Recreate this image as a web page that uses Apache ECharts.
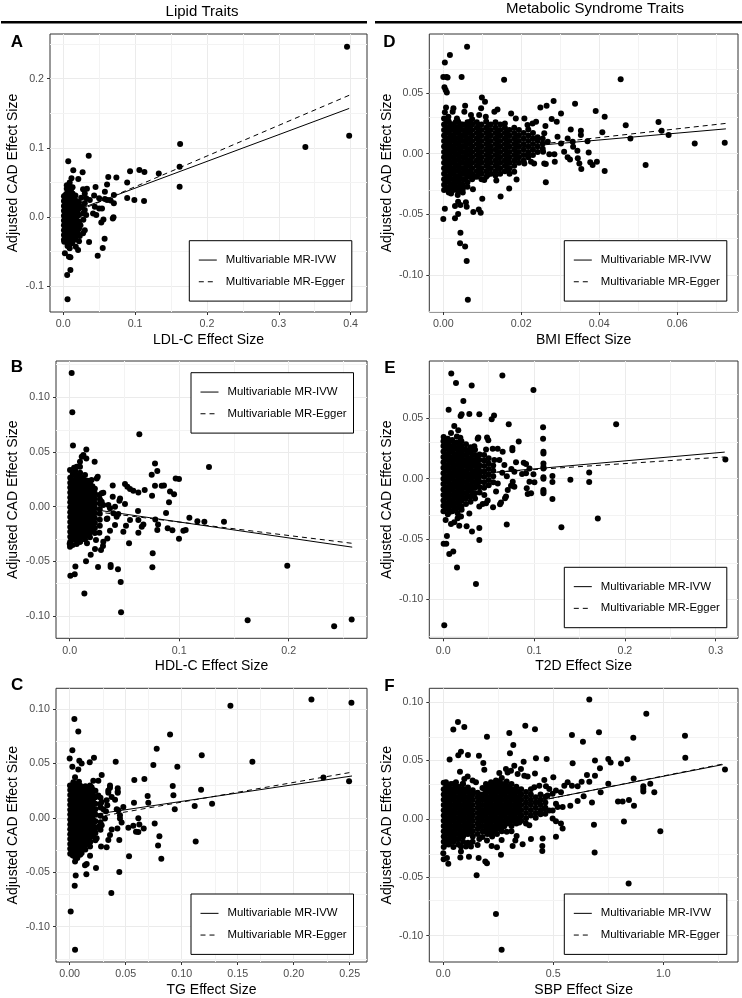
<!DOCTYPE html>
<html><head><meta charset="utf-8">
<script src="https://cdn.jsdelivr.net/npm/echarts@6/dist/echarts.min.js"></script>
<style>html,body{margin:0;padding:0;background:#fff}#c{width:742px;height:998px}</style>
</head><body><div id="c"></div>
<script>
const legendNames = ['Multivariable MR-IVW','Multivariable MR-Egger'];
const yTitle = 'Adjusted CAD Effect Size';

// scattered points
const pointsA = [[.395,.246],[.398,.1176],[.337,.1012],[.1627,.1055],[.162,.0728],[.162,.0439],[.133,.063],[.113,.065],[.106,.068],[.093,.066],[.089,.05],[.074,.057],[.0627,.058],[.061,.047],[.0355,.0887],[.007,.0805],[.014,.0675],[.027,.0646],[.021,.055],[.0115,.056],[.005,.046],[.033,.041],[.0276,.04],[.045,.0434],[.043,.031],[.0705,.032],[.058,.0366],[.089,.0275],[.099,.0246],[.1125,.023],[.0705,.02],[.061,.0246],[.05,.027],[.069,-.002],[.07,-.0005],[.056,-.0034],[.053,-.008],[.0576,-.0313],[.055,-.0448],[.048,-.056],[.036,-.036],[.032,.003],[.0415,.005],[.046,.003],[.05,.0125],[.054,.0125],[.044,.015],[.037,.0246],[.032,.027],[.03,.02],[.0276,.005],[.03,-.019],[.0276,-.0236],[.023,-.0275],[.0207,-.0477],[.0023,-.0525],[.008,-.0573],[.01,-.058],[.01,-.0766],[.0055,-.0839],[.006,-.119],[.0014,-.0357],[.009,-.045],[.0175,-.043],[.058,.026],[.066,.024],[.026,.015],[.03,.01],[.024,-.012],[.028,-.004],[.022,-.035],[.012,-.038],[.006,-.042],[.025,.028],[.03,.034]];
const coreA = [
 [.001,[-.033,-.026,-.019,-.012,-.005,.002,.009,.016,.023,.03]],
 [.003,[-.03,-.023,-.016,-.009,-.002,.005,.012,.019,.026,.032]],
 [.005,[-.036,-.029,-.022,-.015,-.008,-.001,.006,.013,.02,.027,.034,.041]],
 [.007,[-.032,-.025,-.018,-.011,-.004,.003,.01,.017,.024,.031,.038]],
 [.009,[-.034,-.027,-.02,-.013,-.006,.001,.008,.015,.022,.029,.036,.045,.05]],
 [.011,[-.03,-.023,-.016,-.009,-.002,.005,.012,.019,.026,.033,.04]],
 [.013,[-.036,-.029,-.022,-.015,-.008,-.001,.006,.013,.02,.027,.034,.043]],
 [.015,[-.026,-.019,-.012,-.005,.002,.009,.016,.023,.03]],
 [.017,[-.032,-.025,-.018,-.011,-.004,.003,.01,.017,.024,.031]],
 [.0195,[-.022,-.014,-.006,.001,.008,.015,.022]],
 [.022,[-.026,-.017,-.007,.003,.012,.021]]
];
const ivwA = [[0,.003],[.398,.157]];
const eggerA = [[0,-.0006],[.398,.176]];

const pointsB = [[.0018,.1223],[.0024,.0863],[.003,.0561],[.0636,.0662],[.1272,.0363],[.0152,.0524],[.0152,.0442],[.0228,.0412],[.0779,.0396],[.08,.0326],[.0749,.0293],[.0968,.0259],[.0998,.0253],[.0256,.0274],[.0247,.0259],[.02,.0244],[.0505,.0207],[.0527,.0183],[.0551,.0162],[.0581,.0146],[.0627,.0131],[.0685,.0152],[.0779,.0192],[.084,.0192],[.0861,.0195],[.0916,.014],[.0953,.0113],[.0907,.004],[.0752,.0101],[.0393,.0195],[.0393,.0091],[.046,.0076],[.0454,.0055],[.0505,.0024],[.0624,-.004],[.088,-.0058],[.1093,-.0101],[.1166,-.0134],[.123,-.0137],[.1409,-.0137],[.0782,-.0116],[.0807,-.0162],[.08,-.0213],[.0895,-.0198],[.0938,-.0216],[.1038,-.022],[.1059,-.0213],[.0998,-.0293],[.0673,-.0162],[.0658,-.0183],[.0627,-.0122],[.0627,-.0238],[.0551,-.0122],[.0514,-.0174],[.049,-.0229],[.0542,-.0335],[.0758,-.0427],[.0755,-.0555],[.0441,-.0573],[.0374,-.0534],[.0374,-.0552],[.0259,-.0552],[.0466,-.0689],[.0469,-.0966],[.0134,-.0793],[.0052,-.0546],[.0046,-.0619],[.0006,-.0631],[.0149,-.05],[.0192,-.0439],[.0231,-.0387],[.0286,-.0396],[.0304,-.036],[.024,-.0305],[.0344,-.029],[.0307,-.032],[.0368,-.022],[.0414,-.0168],[.0338,-.0113],[.0344,-.0107],[.0271,-.0238],[.0158,-.0335],[.0164,-.0259],[.0429,-.0091],[.0444,-.0067],[.0399,-.0061],[.0414,0],[.0353,.0015],[.0307,.0015],[.0368,-.0015],[.0292,.0122],[.0307,.0128],[.0271,.0107],[.0277,.0067],[.0292,.0046],[.0094,.0412],[.0125,.0473],[.011,.0457],[.0003,.0335],[.004,.0357],[.0064,.0366],[.0094,.0366],[.0003,-.0366],[.0027,-.035],[.0064,-.0341],[.0094,-.032],[.0,-.034],[.1625,-.1038],[.1987,-.0541],[.2415,-.1094],[.2575,-.1032]];
const coreB = [
 [.0005,[-.032,-.0275,-.023,-.0185,-.014,-.0095,-.005,-.0005,.004,.0085,.013,.0175,.022,.0265]],
 [.0028,[-.0295,-.0252,-.0207,-.0162,-.0117,-.0072,-.0027,.0018,.0063,.0108,.0153,.0198,.0243,.03]],
 [.005,[-.030,-.0255,-.021,-.0165,-.012,-.0075,-.003,.0015,.006,.0105,.015,.0195,.024,.0285,.033]],
 [.0073,[-.0298,-.0253,-.0208,-.0163,-.0118,-.0073,-.0028,.0017,.0062,.0107,.0152,.0197,.0242,.0287]],
 [.0095,[-.032,-.0275,-.023,-.0185,-.014,-.0095,-.005,-.0005,.004,.0085,.013,.0175,.022,.0265,.031]],
 [.0118,[-.0275,-.0233,-.0188,-.0143,-.0098,-.0053,-.0008,.0037,.0082,.0127,.0172,.0217,.0262]],
 [.014,[-.030,-.0255,-.021,-.0165,-.012,-.0075,-.003,.0015,.006,.0105,.015,.0195,.024,.029]],
 [.0163,[-.0255,-.0213,-.0168,-.0123,-.0078,-.0033,.0012,.0057,.0102,.0147,.0192,.0237]],
 [.0185,[-.028,-.0235,-.019,-.0145,-.01,-.0055,-.001,.0035,.008,.0125,.017,.0215]],
 [.0208,[-.0215,-.0173,-.0128,-.0083,-.0038,.0007,.0052,.0097,.0142,.0187]],
 [.023,[-.024,-.0195,-.015,-.0105,-.006,-.0015,.003,.0075,.012,.0165]],
 [.0275,[-.0175,-.012,-.0065,-.002,.003]]
];
const ivwB = [[0,.0006],[.258,-.037]];
const eggerB = [[0,-.0017],[.258,-.0335]];

const pointsC = [[.0042,.0909],[.0077,.0794],[.1435,.103],[.2158,.1088],[.2515,.1058],[.0896,.0767],[.0777,.0636],[.1179,.0576],[.0024,.0621],[0,.0545],[.0217,.0552],[.0086,.0524],[.0107,.05],[.0179,.0512],[.0411,.0515],[.1631,.0515],[.0747,.0485],[.0961,.047],[.0024,.047],[.0077,.0445],[.0286,.0394],[.0667,.0358],[.0577,.0348],[.2265,.037],[.2494,.0336],[.092,.0294],[.1173,.0258],[.0926,.0209],[.0696,.02],[.0702,.0139],[.0574,.0139],[.1271,.013],[.1116,.0109],[.0938,.0079],[.036,.0297],[.036,.0276],[.0345,.0252],[.0345,.023],[.0429,.0273],[.0429,.0242],[.0429,.023],[.0375,.0191],[.0405,.0167],[.033,.0161],[.0479,.01],[.0435,.007],[.042,.0079],[.0449,.0024],[.0449,-.0006],[.0464,-.0042],[.0426,-.0097],[.0443,-.0203],[.0524,-.0091],[.0568,-.0073],[.0592,-.0127],[.0613,-.013],[.0622,-.0061],[.0613,-.0003],[.0661,-.0097],[.0759,-.0052],[.0801,-.017],[.0789,-.0255],[.0818,-.0376],[.053,-.0352],[.1125,-.0218],[.0443,-.0497],[.0372,-.0691],[.0235,-.0461],[.0149,-.0518],[.0152,-.0424],[.0137,-.0436],[.0182,-.0348],[.0241,-.0188],[.028,-.0264],[.033,-.027],[.0345,-.0203],[.036,-.0158],[.0375,-.0106],[.0054,-.053],[.0045,-.0624],[.0009,-.0861],[.0048,-.1212],[.0048,-.04],[.0068,-.037],[.0107,-.0324],[.0092,-.0339],[.0137,-.0248],[.0182,-.0264],[.0226,-.0127],[.0256,-.0082],[.0286,-.0067],[.0315,-.0006],[.0324,.0061],[.0301,.0079],[.0336,.0115],[.0286,.0145],[.0256,.0206],[.0211,.0342],[.0256,.0342],[.0196,.0282],[.0182,.0297],[.0003,.0297],[.0033,.0327],[.0083,.0333],[.0048,.0373]];
const coreC = [
 [.0005,[-.033,-.0285,-.024,-.0195,-.015,-.0105,-.006,-.0015,.003,.0075,.012,.0165,.021,.0255]],
 [.0028,[-.0345,-.0308,-.0263,-.0218,-.0173,-.0128,-.0083,-.0038,.0007,.0052,.0097,.0142,.0187,.0232,.028]],
 [.005,[-.036,-.0315,-.027,-.0225,-.018,-.0135,-.009,-.0045,0,.0045,.009,.0135,.018,.0225,.027,.031]],
 [.0073,[-.0338,-.0292,-.0247,-.0202,-.0157,-.0112,-.0067,-.0022,.0023,.0068,.0113,.0158,.0203,.0248,.0293]],
 [.0095,[-.0335,-.029,-.0245,-.02,-.0155,-.011,-.0065,-.002,.0025,.007,.0115,.016,.0205,.025,.0295]],
 [.0118,[-.0287,-.0267,-.0222,-.0177,-.0132,-.0087,-.0042,.0003,.0048,.0093,.0138,.0183,.0228,.0273]],
 [.014,[-.029,-.0245,-.02,-.0155,-.011,-.0065,-.002,.0025,.007,.0115,.016,.0205,.025,.029]],
 [.0163,[-.0215,-.0198,-.0153,-.0108,-.0063,-.0018,.0027,.0072,.0117,.0162,.0207,.0252,.028]],
 [.0185,[-.022,-.0175,-.013,-.0085,-.004,.0005,.005,.0095,.014,.0185,.023,.0275]],
 [.0208,[-.017,-.0108,-.0063,-.0013,.0032,.0077,.0122,.0167,.0212,.0257]],
 [.023,[-.0205,-.014,-.009,-.003,.003,.008,.013,.019,.025]],
 [.0275,[-.011,-.004,.002,.0095,.013,.0185]]
];
const ivwC = [[0,-.0002],[.252,.0385]];
const eggerC = [[0,-.0036],[.252,.042]];

const pointsD = [[.0061,.0882],[.0017,.0813],[.0004,.0753],[0,.0632],[.0008,.0632],[.0011,.0629],[.0047,.0632],[.0156,.061],[.0455,.0613],[.0003,.0547],[.0006,.0525],[.0009,.0505],[.0099,.0464],[.0107,.0429],[.0283,.0434],[.0338,.0412],[.0265,.0396],[.0249,.0382],[.0302,.0332],[.0391,.0352],[.0414,.0305],[.0468,.0234],[.0552,.0261],[.056,.019],[.0578,.0154],[.048,.0126],[.0645,.0085],[.0722,.0091],[.0519,-.0093],[.0414,-.0143],[.0408,.0176],[.037,.0102],[.0373,.0011],[.0377,-.0071],[.0383,-.0093],[.0394,-.0066],[.0353,.019],[.0353,.0154],[.0327,.02],[.0345,-.0038],[.0349,-.008],[.0354,-.0126],[.031,.0016],[.0319,-.003],[.0325,-.0047],[.0344,.0025],[.0263,-.0236],[.0286,-.0066],[.0259,-.008],[.0263,-.0085],[.0272,-.0005],[.0285,-.0005],[.0256,.0016],[.0291,.0264],[.0278,.0286],[.0262,.0228],[.0293,.014],[.0302,.0085],[.0319,.0126],[.0332,.0099],[.0333,.0058],[.0259,.0168],[.0242,.0135],[.0268,.0099],[.0238,.0264],[.0229,.025],[.0216,.0236],[.0208,.0291],[.0186,.0291],[.0174,.0332],[.0139,.0365],[.0131,.0346],[.0097,.0374],[.0109,.0305],[.0092,.0319],[.0071,.0319],[.0056,.0396],[.0054,.0346],[.0026,.0374],[.0007,.0382],[.0004,.0341],[.0024,.0346],[.0035,.0291],[.0013,.0305],[0,-.0538],[.0004,-.0453],[.003,-.0533],[.0038,-.0497],[.0044,-.0651],[.0043,-.0739],[.0056,-.0764],[.006,-.0885],[.0063,-.1203],[.0077,-.0481],[.0091,-.0459],[.0096,-.0486],[.01,-.0371],[.006,-.0437],[.0058,-.0401],[.003,-.0431],[.0038,-.0396],[.0044,-.0423],[.0076,-.0294],[.0062,-.0272],[.005,-.0319],[.0037,-.0341],[.002,-.0327],[.0147,-.0352],[.0169,-.0286],[.0188,-.0212],[.0136,-.022],[.0105,-.0217],[.0079,-.019],[.0114,-.0176],[.0182,-.0148],[.0165,-.0126],[.0208,-.008],[.0225,-.0066],[.0233,-.008],[.0216,-.0011]];
const coreD = [
 [.0002,[-.03,-.0255,-.021,-.0165,-.012,-.0075,-.003,.0015,.006,.0105,.015,.0195,.024,.029]],
 [.0008,[-.028,-.0233,-.0188,-.0143,-.0098,-.0053,-.0008,.0037,.0082,.0127,.0172,.0217,.0262]],
 [.0014,[-.032,-.0275,-.023,-.0185,-.014,-.0095,-.005,-.0005,.004,.0085,.013,.0175,.022,.0265]],
 [.002,[-.0298,-.0252,-.0207,-.0162,-.0117,-.0072,-.0027,.0018,.0063,.0108,.0153,.0198,.0243]],
 [.0026,[-.03,-.0255,-.021,-.0165,-.012,-.0075,-.003,.0015,.006,.0105,.015,.0195,.024]],
 [.0032,[-.0275,-.0233,-.0188,-.0143,-.0098,-.0053,-.0008,.0037,.0082,.0127,.0172,.0217,.0262]],
 [.0038,[-.031,-.0275,-.023,-.0185,-.014,-.0095,-.005,-.0005,.004,.0085,.013,.0175,.022,.0265]],
 [.0044,[-.0252,-.0207,-.0162,-.0117,-.0072,-.0027,.0018,.0063,.0108,.0153,.0198,.0243]],
 [.005,[-.029,-.0255,-.021,-.0165,-.012,-.0075,-.003,.0015,.006,.0105,.015,.0195,.024]],
 [.0056,[-.0213,-.0168,-.0123,-.0078,-.0033,.0012,.0057,.0102,.0147,.0192,.0237]],
 [.0062,[-.0235,-.019,-.0145,-.01,-.0055,-.001,.0035,.008,.0125,.017,.0215,.026]],
 [.0068,[-.0188,-.0143,-.0098,-.0053,-.0008,.0037,.0082,.0127,.0172,.0217,.0262]],
 [.0074,[-.021,-.0165,-.012,-.0075,-.003,.0015,.006,.0105,.015,.0195,.024,.0285]],
 [.0086,[-.019,-.0145,-.01,-.0055,-.001,.0035,.008,.0125,.017,.0215,.026]],
 [.0092,[-.0168,-.0123,-.0078,-.0033,.0012,.0057,.0102,.0147,.0192,.0237]],
 [.0098,[-.021,-.0165,-.012,-.0075,-.003,.0015,.006,.0105,.015,.0195,.024]],
 [.011,[-.019,-.0145,-.01,-.0055,-.001,.0035,.008,.0125,.017,.0215,.0265]],
 [.0116,[-.0123,-.0078,-.0033,.0012,.0057,.0102,.0147,.0192,.0237]],
 [.0122,[-.0165,-.012,-.0075,-.003,.0015,.006,.0105,.015,.0195,.024]],
 [.0134,[-.018,-.0145,-.01,-.0055,-.001,.0035,.008,.0125,.017,.0215,.026]],
 [.014,[-.0123,-.0078,-.0033,.0012,.0057,.0102,.0147,.0192]],
 [.0146,[-.0165,-.012,-.0075,-.003,.0015,.006,.0105,.015,.0195,.024]],
 [.0158,[-.0145,-.01,-.0055,-.001,.0035,.008,.0125,.017,.0215,.025]],
 [.0164,[-.0078,-.0033,.0012,.0057,.0102,.0147,.0192]],
 [.017,[-.0165,-.012,-.0075,-.003,.0015,.006,.0105,.015,.0195]],
 [.0182,[-.01,-.0055,-.001,.0035,.008,.0125,.017,.0215]],
 [.0188,[-.0033,.0012,.0057,.0102,.0147]],
 [.0194,[-.0075,-.003,.0015,.006,.0105,.015,.0195]],
 [.0206,[-.0055,-.001,.0035,.008,.0125,.017]],
 [.0218,[-.003,.0015,.006,.0105,.015,.02]],
 [.023,[-.001,.0035,.008,.0125,.017]],
 [.0242,[.0015,.006,.0105]],
 [.0255,[.004,.0085,.0125]]
];
const ivwD = [[0,0],[.0725,.0205]];
const eggerD = [[0,-.001],[.0725,.025]];

const pointsE = [[.0088,.0871],[.014,.0791],[.0313,.0772],[.0651,.0854],[.0993,.0734],[.0221,.0643],[.0059,.0571],[.0202,.0533],[.0191,.0519],[.0287,.0536],[.0397,.0533],[.0559,.0522],[.0533,.0492],[.0721,.0451],[.1904,.0451],[.1099,.0426],[.1099,.033],[.1103,.0223],[.1103,.0209],[.0831,.0308],[.0761,.0255],[.0761,.0236],[.0654,.0223],[.0599,.0247],[.0544,.0247],[.0482,.0341],[.0496,.0319],[.0379,.033],[.0386,.0341],[.0121,.0437],[.0165,.0401],[.0085,.0379],[.0188,.0338],[.0004,.0346],[.0342,.0269],[.0471,.0242],[.0305,.025],[.3107,.0159],[.1607,.0052],[.1607,-.0027],[.14,-.0008],[.1202,.0022],[.1202,-.0027],[.1202,-.0168],[.1103,.0126],[.1103,.0099],[.1103,.0085],[.1103,.0011],[.1103,0],[.1103,-.0093],[.1103,-.0107],[.1103,-.0121],[.1702,-.033],[.1301,-.0401],[.0699,-.0379],[.0993,.0036],[.0949,-.0025],[.1004,-.003],[.0967,-.0121],[.093,-.0126],[.0919,-.008],[.0912,.0044],[.0886,.0132],[.0912,.0121],[.0801,.0135],[.0868,.0038],[.0949,.0085],[.0783,-.0066],[.0746,-.0058],[.0765,-.0025],[.071,-.0093],[.0691,-.0148],[.068,-.0162],[.0636,-.0198],[.0625,-.0212],[.0548,-.0236],[.0489,-.0181],[.0471,-.0203],[.0434,-.0209],[.0397,-.0231],[.0452,-.0135],[.0581,-.0107],[.0287,-.0288],[.0158,-.0286],[.0202,-.0258],[.0026,-.0341],[.0085,-.0376],[.0121,-.036],[.0158,-.0327],[.0195,-.0313],[.0176,-.039],[.0257,-.0393],[.0316,-.0437],[.0397,-.0409],[.0397,-.0508],[.004,-.0475],[.0004,-.0538],[.0033,-.0538],[.0066,-.0624],[.011,-.0602],[.0151,-.0736],[.036,-.0871],[.0011,-.1214],[.0673,.0113],[.0618,.0154],[.0562,.0154],[.0783,.0058],[.065,.005],[.07,.002],[.075,.008],[.06,-.004]];
const coreE = [
 [.0002,[-.027,-.0225,-.018,-.0135,-.009,-.0045,0,.0045,.009,.0135,.018,.0225,.027,.031]],
 [.0025,[-.0248,-.0203,-.0158,-.0113,-.0068,-.0023,.0022,.0067,.0112,.0157,.0202,.0247,.0292]],
 [.005,[-.0295,-.025,-.0205,-.016,-.0115,-.007,-.0025,.002,.0065,.011,.0155,.02,.0245,.029,.033]],
 [.0075,[-.0273,-.0228,-.0183,-.0138,-.0093,-.0048,-.0003,.0042,.0087,.0132,.0177,.0222,.0267,.0312]],
 [.01,[-.027,-.0225,-.018,-.0135,-.009,-.0045,0,.0045,.009,.0135,.018,.0225,.027,.032]],
 [.0125,[-.0248,-.0203,-.0158,-.0113,-.0068,-.0023,.0022,.0067,.0112,.0157,.0202,.0247,.0292]],
 [.015,[-.0245,-.02,-.0155,-.011,-.0065,-.002,.0025,.007,.0115,.016,.0205,.025,.03,.035]],
 [.0175,[-.0222,-.0178,-.0133,-.0088,-.0043,.0002,.0047,.0092,.0137,.0182,.0227,.0272]],
 [.02,[-.023,-.0185,-.014,-.0095,-.005,-.0005,.004,.0085,.013,.0175,.022,.0265,.031]],
 [.0225,[-.0163,-.0118,-.0073,-.0028,.0017,.0062,.0107,.0152,.0197,.0242]],
 [.025,[-.021,-.0165,-.012,-.0075,-.003,.0015,.006,.0105,.015,.0195,.024,.0285]],
 [.0275,[-.0143,-.0098,-.0053,-.0008,.0037,.0082,.0127,.0172,.0217]],
 [.03,[-.019,-.0145,-.01,-.0055,-.001,.0035,.008,.0125,.017,.0215,.026]],
 [.0325,[-.0118,-.0073,-.0028,.0017,.0062,.0107,.0152,.0197]],
 [.035,[-.0165,-.012,-.0075,-.003,.0015,.006,.0105,.015,.0195,.024]],
 [.0375,[-.0053,-.0008,.0037,.0082,.0127,.0172]],
 [.04,[-.0115,-.007,-.0025,.002,.0065,.011,.0155,.02]],
 [.045,[-.0075,-.003,.0015,.006,.0105,.015,.0195]],
 [.05,[-.0055,-.001,.0035,.008,.0125,.017]],
 [.055,[-.003,.002,.0065,.011]]
];
const ivwE = [[0,.0015],[.31,.022]];
const eggerE = [[0,.0025],[.31,.018]];

const pointsF = [[.6636,.1023],[.9227,.0901],[.0667,.0831],[.0955,.0788],[.0455,.0766],[.3727,.0799],[.4167,.0768],[.3,.0737],[.1985,.0703],[.7076,.0743],[.5848,.0718],[.6348,.0661],[.8636,.0695],[1.0985,.0712],[1.1,.0523],[.3182,.0633],[.0803,.0576],[.0682,.0545],[.1121,.0548],[.1621,.0542],[.0288,.0508],[.303,.0562],[.1818,.048],[.1864,.0421],[.0758,.0404],[.4212,.052],[.4697,.0514],[.5879,.0477],[.6894,.05],[.75,.0514],[.7606,.0483],[.8076,.0475],[.8364,.0511],[.7121,.0435],[.6894,.037],[.653,.0376],[.6636,.0319],[.6288,.0319],[.8652,.0347],[.75,.0302],[.7152,.0229],[.9091,.028],[.9091,.0257],[.9091,.0234],[.9409,.0302],[.9591,.0229],[1.2803,.0424],[.794,.015],[.8152,.015],[.8439,.0161],[.8667,.0113],[.6758,.0141],[.6379,.0195],[.6106,.0153],[.5773,.0113],[.8212,-.0023],[.6848,-.0051],[.9864,-.0105],[.6879,-.0288],[.8424,-.0554],[.1515,-.0483],[.2394,-.0814],[.2652,-.1121],[.0227,-.0384],[.1985,-.0381],[.1909,-.0364],[.1606,-.0336],[0,-.0294],[.0015,-.0345],[.0167,-.0336],[.0773,-.033],[.0803,-.028],[.1167,-.0325],[.2621,-.0308],[.2439,-.0243],[.2197,-.0232],[.1985,-.0186],[.2652,-.0181],[.3152,-.0232],[.3273,-.0186],[.3333,-.0147],[.3606,-.0218],[.3985,-.0172],[.45,-.0274],[.45,-.0232],[.4515,-.0167],[.5121,-.0153],[.5348,-.004],[.5424,-.0082],[.497,.0003],[.5121,-.002],[.3758,-.004],[.3909,-.0054],[.3455,-.0031],[.1258,-.0237],[.1333,-.0195],[.1561,-.0223],[.1636,-.0172],[.0803,-.0237],[.103,-.0237],[.3227,.0455],[.2848,.0427],[.2924,.0398],[.3076,.0412],[.2545,.0393],[.2394,.0328],[.2167,.0314],[.1939,.0299],[.3652,.0489],[.353,.0427],[.3682,.037],[.3833,.0364],[.3379,.0384],[.4167,.039],[.4591,.0333],[.5,.0356],[.4136,.0271],[.4364,.0285],[.4667,.028],[.4818,.0257],[.5121,.0243],[.5348,.0229],[.5652,.0314],[.5848,.0285],[.6106,.028],[.55,.0285],[.4742,.0201],[.497,.0215],[.5121,.013],[.5424,.0102],[.5197,.0102],[.4818,.0073],[.497,.0073],[.4591,.0088],[.4364,.0144],[.0121,.0314],[.0576,.0314],[.0879,.0299],[.1106,.0364],[.1333,.0328],[.1485,.0314],[.0955,.0342],[.0348,.0299]];
const coreF = [
 [.002,[-.024,-.0195,-.015,-.0105,-.006,-.0015,.003,.0075,.012,.0165,.021,.0255,.031]],
 [.013,[-.0218,-.0173,-.0128,-.0083,-.0038,.0007,.0052,.0097,.0142,.0187,.0232,.0277]],
 [.024,[-.022,-.0175,-.013,-.0085,-.004,.0005,.005,.0095,.014,.0185,.023,.0275]],
 [.035,[-.0198,-.0153,-.0108,-.0063,-.0018,.0027,.0072,.0117,.0162,.0207,.0252]],
 [.046,[-.024,-.0195,-.015,-.0105,-.006,-.0015,.003,.0075,.012,.0165,.021,.0255,.03]],
 [.057,[-.0173,-.0128,-.0083,-.0038,.0007,.0052,.0097,.0142,.0187,.0232,.0277]],
 [.068,[-.022,-.0175,-.013,-.0085,-.004,.0005,.005,.0095,.014,.0185,.023,.0275]],
 [.079,[-.0153,-.0108,-.0063,-.0018,.0027,.0072,.0117,.0162,.0207,.0252]],
 [.09,[-.0195,-.015,-.0105,-.006,-.0015,.003,.0075,.012,.0165,.021,.0255,.03]],
 [.101,[-.0128,-.0083,-.0038,.0007,.0052,.0097,.0142,.0187,.0232]],
 [.112,[-.0205,-.013,-.0085,-.004,.0005,.005,.0095,.014,.0185,.023,.027]],
 [.123,[-.0108,-.0063,-.0018,.0027,.0072,.0117,.0162,.0207]],
 [.134,[-.015,-.0105,-.006,-.0015,.003,.0075,.012,.0165,.021,.0245]],
 [.156,[-.013,-.0085,-.004,.0005,.005,.0095,.014,.0185,.0225]],
 [.167,[-.0063,-.0018,.0027,.0072,.0117,.0162,.0207]],
 [.178,[-.0155,-.0105,-.006,-.0015,.003,.0075,.012,.0165,.021,.0265]],
 [.19,[-.0108,-.0063,-.0018,.0027,.0072,.0117,.0162,.0207,.0252]],
 [.2,[-.013,-.0085,-.004,.0005,.005,.0095,.014,.0185,.023,.0275]],
 [.211,[-.0128,-.0083,-.0038,.0007,.0052,.0097,.0142,.0187,.0232,.0277]],
 [.222,[-.015,-.0105,-.006,-.0015,.003,.0075,.012,.0165,.021,.0255,.03]],
 [.233,[-.0108,-.0063,-.0018,.0027,.0072,.0117,.0162,.0207,.0252,.0297]],
 [.244,[-.013,-.0085,-.004,.0005,.005,.0095,.014,.0185,.023,.0275,.032]],
 [.255,[-.0083,-.0038,.0007,.0052,.0097,.0142,.0187,.0232,.0277,.0322]],
 [.266,[-.0105,-.006,-.0015,.003,.0075,.012,.0165,.021,.0255,.03,.035]],
 [.277,[-.0063,-.0018,.0027,.0072,.0117,.0162,.0207,.0252,.0297]],
 [.288,[-.011,-.004,.0005,.005,.0095,.014,.0185,.023,.0275,.032]],
 [.299,[-.0038,.0007,.0052,.0097,.0142,.0187,.0232,.0277]],
 [.31,[-.0105,-.006,-.0015,.003,.0075,.012,.0165,.021,.0255,.03]],
 [.321,[-.0018,.0027,.0072,.0117,.0162,.0207,.0252]],
 [.332,[-.004,.0005,.005,.0095,.014,.0185,.023,.0275]],
 [.343,[.0007,.0052,.0097,.0142,.0187,.0232]],
 [.354,[-.0015,.003,.0075,.012,.0165,.021,.0255]],
 [.376,[.0005,.005,.0095,.014,.0185,.023]],
 [.398,[.003,.0075,.012,.0165,.021,.0255]],
 [.42,[.001,.005,.0095,.014,.0185]],
 [.442,[.004,.0075,.012,.0165,.021]],
 [.464,[.0045,.0095,.014,.019]]
];
const ivwF = [[0,-.0005],[1.27,.0465]];
const eggerF = [[0,-.001],[1.27,.047]];

const panels = [
 {letter:'A',xName:'LDL-C Effect Size',points:pointsA,core:coreA,ivw:ivwA,egger:eggerA,xMin:-.0184,xMax:.4228,yMin:-.1373,yMax:.2646,xMajor:[0,.1,.2,.3,.4],xMinor:[.05,.15,.25,.35],yMajor:[-.1,0,.1,.2],yMinor:[-.05,.05,.15,.25],xDec:1,yDec:1,box:[50,34,317,278],gap:30,leg:[189.3,240.7],lab:[10.7,34]},
 {letter:'B',xName:'HDL-C Effect Size',points:pointsB,core:coreB,ivw:ivwB,egger:eggerB,xMin:-.0125,xMax:.2715,yMin:-.1204,yMax:.1333,xMajor:[0,.1,.2],xMinor:[.05,.15,.25],yMajor:[-.1,-.05,0,.05,.1],yMinor:[-.075,-.025,.025,.075,.125],xDec:1,yDec:2,box:[56,361,311,277.3],gap:36,leg:[191,372.7],lab:[10.7,359]},
 {letter:'C',xName:'TG Effect Size',points:pointsC,core:coreC,ivw:ivwC,egger:eggerC,xMin:-.0122,xMax:.2654,yMin:-.1325,yMax:.1191,xMajor:[0,.05,.1,.15,.2,.25],xMinor:[.025,.075,.125,.175,.225],yMajor:[-.1,-.05,0,.05,.1],yMinor:[-.125,-.075,-.025,.025,.075],xDec:2,yDec:2,box:[56,688.3,311,276.7],gap:36,leg:[191,894],lab:[11,677]},
 {letter:'D',xName:'BMI Effect Size',points:pointsD,core:coreD,ivw:ivwD,egger:eggerD,xMin:-.00359,xMax:.0756,yMin:-.1305,yMax:.0987,xMajor:[0,.02,.04,.06],xMinor:[.01,.03,.05,.07],yMajor:[-.1,-.05,0,.05],yMinor:[-.125,-.075,-.025,.025,.075],xDec:2,yDec:2,box:[429.3,34,308.7,278],gap:35,leg:[564.3,240.7],lab:[383.3,34]},
 {letter:'E',xName:'T2D Effect Size',points:pointsE,core:coreE,ivw:ivwE,egger:eggerE,xMin:-.0154,xMax:.3246,yMin:-.1321,yMax:.0974,xMajor:[0,.1,.2,.3],xMinor:[.05,.15,.25],yMajor:[-.1,-.05,0,.05],yMinor:[-.125,-.075,-.025,.025,.075],xDec:1,yDec:2,box:[429.3,361,308.7,277.3],gap:35,leg:[564.3,567.3],lab:[384.3,360]},
 {letter:'F',xName:'SBP Effect Size',points:pointsF,core:coreF,ivw:ivwF,egger:eggerF,xMin:-.0636,xMax:1.3395,yMin:-.1226,yMax:.1119,xMajor:[0,.5,1],xMinor:[.25,.75,1.25],yMajor:[-.1,-.05,0,.05,.1],yMinor:[-.075,-.025,.025,.075],xDec:1,yDec:2,box:[429.3,688.3,308.7,276.7],gap:35,leg:[564.3,894],lab:[384.3,678]}
];

const FONT = 'Liberation Sans';
const grid=[],xAxis=[],yAxis=[],series=[],legend=[];
const title=[
 {text:'Lipid Traits',left:202,top:4,textAlign:'center',padding:0,textStyle:{fontFamily:FONT,fontSize:15,fontWeight:'normal',color:'#000'}},
 {text:'Metabolic Syndrome Traits',left:595,top:1,textAlign:'center',padding:0,textStyle:{fontFamily:FONT,fontSize:15,fontWeight:'normal',color:'#000'}}
];
panels.forEach((p,i)=>{
 const pts=p.points.slice();
 p.core.forEach(c=>c[1].forEach(y=>pts.push([c[0],y])));
 grid.push({left:p.box[0],top:p.box[1],width:p.box[2],height:p.box[3],show:true,backgroundColor:'transparent',borderColor:'#333',borderWidth:1,containLabel:false});
 const ax=(isX)=>({
  type:'value',gridIndex:i,
  min:isX?p.xMin:p.yMin,max:isX?p.xMax:p.yMax,
  name:isX?p.xName:yTitle,nameLocation:'middle',nameGap:isX?21:p.gap,
  nameTextStyle:{fontFamily:FONT,fontSize:14,color:'#000'},
  axisLine:{show:false,onZero:false},
  axisTick:{show:true,length:3,lineStyle:{color:'#333',width:1},customValues:isX?p.xMajor:p.yMajor},
  axisLabel:{show:true,customValues:isX?p.xMajor:p.yMajor,margin:isX?7:6,fontFamily:FONT,fontSize:10.7,color:'#4d4d4d',
   formatter:v=>v.toFixed(isX?p.xDec:p.yDec)},
  splitLine:{show:true,lineStyle:{color:'#ebebeb',width:1}},
  minorSplitLine:{show:false}
 });
 xAxis.push(ax(true)); yAxis.push(ax(false));
 series.push({type:'line',name:'minor grid '+p.letter,xAxisIndex:i,yAxisIndex:i,data:[],z:1,silent:true,showSymbol:false,
  markLine:{z:1,silent:true,symbol:'none',animation:false,label:{show:false},lineStyle:{color:'#f3f3f3',width:1,type:'solid'},
   data:p.xMinor.map(v=>({xAxis:v})).concat(p.yMinor.map(v=>({yAxis:v})))}});
 series.push({type:'scatter',name:'Variants '+p.letter,xAxisIndex:i,yAxisIndex:i,data:pts,symbolSize:6,itemStyle:{color:'#000',opacity:1},z:3,silent:true});
 series.push({type:'line',name:legendNames[0],xAxisIndex:i,yAxisIndex:i,data:p.ivw,symbol:'none',lineStyle:{color:'#000',width:1,type:'solid'},z:4,silent:true});
 series.push({type:'line',name:legendNames[1],xAxisIndex:i,yAxisIndex:i,data:p.egger,symbol:'none',lineStyle:{color:'#000',width:1,type:[5,4]},z:4,silent:true});
 legend.push({data:legendNames,orient:'vertical',left:p.leg[0],top:p.leg[1],itemWidth:18,itemHeight:14,itemGap:10.5,
  itemStyle:{color:'rgba(0,0,0,0)',borderWidth:0,opacity:0},lineStyle:{width:1},
  padding:[13.75,7,13.75,9],backgroundColor:'#fff',borderColor:'#000',borderWidth:1,borderRadius:0,selectedMode:false,z:6,
  textStyle:{fontFamily:FONT,fontSize:11.4,color:'#000',padding:[0,0,0,4]}});
 title.push({text:p.letter,left:p.lab[0],top:p.lab[1],padding:0,textStyle:{fontFamily:FONT,fontSize:17,fontWeight:'bold',color:'#000'}});
});
const chart=echarts.init(document.getElementById('c'),null,{renderer:'canvas'});
chart.setOption({animation:false,backgroundColor:'#fff',textStyle:{fontFamily:FONT},title,grid,xAxis,yAxis,series,legend,tooltip:{show:false},
 graphic:[
  {type:'rect',shape:{x:1,y:21,width:366,height:2.4},style:{fill:'#000'}},
  {type:'rect',shape:{x:375,y:21,width:367,height:2.4},style:{fill:'#000'}}
 ]});
</script></body></html>
